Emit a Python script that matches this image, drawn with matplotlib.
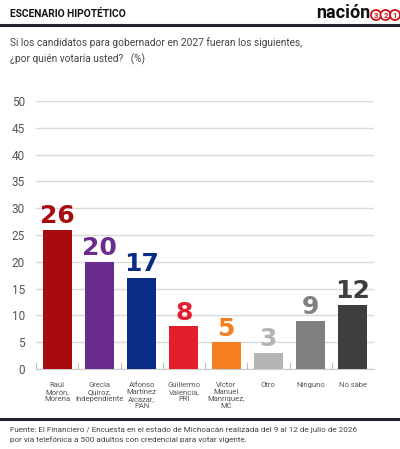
import numpy as np
import matplotlib
matplotlib.use('Agg')
import matplotlib.pyplot as plt

# data
categories = ['Raúl\nMorón,\nMorena', 'Grecia\nQuiroz,\nIndependiente',
              'Alfonso\nMartínez\nAlcázar,\nPAN', 'Guillermo\nValencia,\nPRI',
              'Víctor\nManuel\nManríquez,\nMC', 'Otro', 'Ninguno', 'No sabe']
values = [26, 20, 17, 8, 5, 3, 9, 12]
colors = ['#A80B0F', '#6A2D8F', '#0B2C86', '#E51E2B', '#F47E20',
          '#B4B4B4', '#808083', '#3E3E40']
yticks = [0, 5, 10, 15, 20, 25, 30, 35, 40, 45, 50]

plt.rcParams['font.family'] = ['Roboto', 'DejaVu Sans']

fig = plt.figure(figsize=(4.0, 4.49), dpi=100)
ax = fig.add_axes([0.09, 0.178, 0.845, 0.597])

x = np.arange(len(values))
ax.bar(x, values, width=0.69, color=colors, zorder=3)

for xi, v, c in zip(x, values, colors):
    ax.text(xi, v + 0.3, str(v), ha='center', va='bottom', color=c,
            fontsize=18, fontweight='bold', family=['DejaVu Sans'],
            clip_on=False)

ax.set_xlim(-0.5, len(values) - 0.5)
ax.set_ylim(0, 50)
ax.set_yticks(yticks)
ax.set_yticklabels([str(t) for t in yticks], color='#555555', fontsize=8.5)
ax.yaxis.grid(True, color='#DADADA', linewidth=1.0, zorder=0)
ax.tick_params(axis='y', length=0, pad=8)
ax.set_xticks(x)
ax.set_xticklabels(categories, fontsize=5.5, color='#555555', linespacing=1.25)
ax.tick_params(axis='x', length=0, pad=9)
# small separator ticks between categories
for b in np.arange(-0.5, len(values), 1.0):
    ax.plot([b, b], [0, 1.2], color='#BBBBBB', linewidth=0.8, zorder=2)
for s in ['top', 'right', 'left']:
    ax.spines[s].set_visible(False)
ax.spines['bottom'].set_color('#CCCCCC')
ax.spines['bottom'].set_linewidth(0.8)

# header
fig.text(10 / 400, 1 - 14 / 449, 'ESCENARIO HIPOTÉTICO', fontsize=7.4,
         fontweight='bold', color='#111111', va='center')
fig.text(370 / 400, 1 - 13 / 449, 'nación', fontsize=13, fontweight='bold',
         color='#111111', va='center', ha='right')
for px, d in zip([376, 385.5, 395], ['3', '2', '1']):
    fig.text(px / 400, 1 - 15 / 449, d, fontsize=5.5, fontweight='bold',
             color='#D0121B', ha='center', va='center',
             bbox=dict(boxstyle='circle,pad=0.2', fc='white', ec='#D0121B', lw=1.3))
fig.add_artist(plt.Line2D([0, 1], [1 - 25 / 449, 1 - 25 / 449],
                          color='#1F2430', linewidth=2.2))
fig.text(10 / 400, 1 - 51 / 449,
         'Si los candidatos para gobernador en 2027 fueran los siguientes,\n'
         '¿por quién votaría usted?   (%)',
         fontsize=7.3, color='#444444', va='center', linespacing=1.6)

# footer
fig.add_artist(plt.Line2D([0, 1], [1 - 419 / 449, 1 - 419 / 449],
                          color='#1F2430', linewidth=2.2))
fig.text(10 / 400, 1 - 435 / 449,
         'Fuente: El Financiero / Encuesta en el estado de Michoacán realizada del 9 al 12 de julio de 2026\n'
         'por vía telefónica a 500 adultos con credencial para votar vigente.',
         fontsize=5.85, color='#444444', va='center', linespacing=1.45)

plt.savefig('out.png', dpi=100)
